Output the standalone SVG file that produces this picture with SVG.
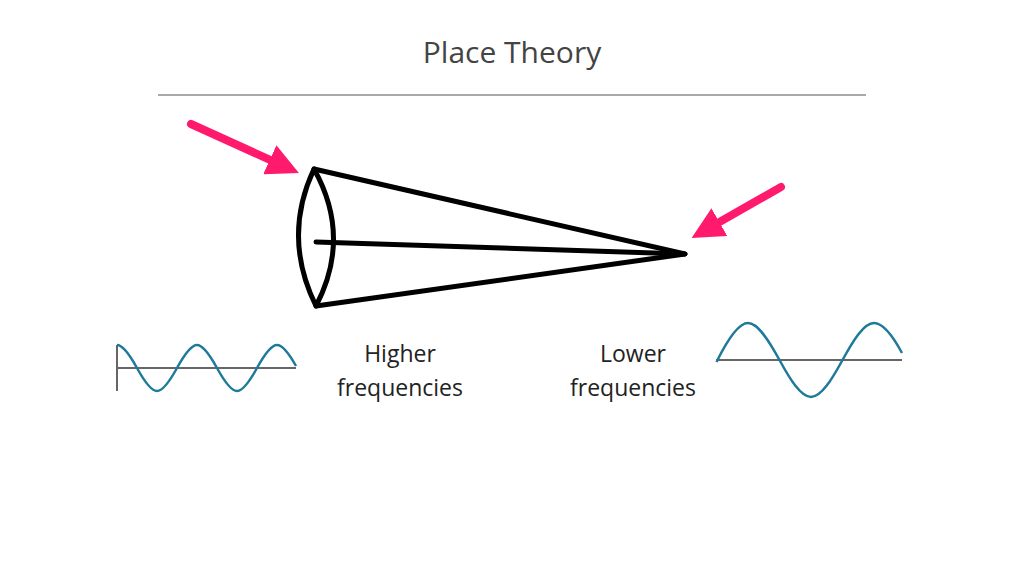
<svg xmlns="http://www.w3.org/2000/svg" width="1024" height="576" viewBox="0 0 1024 576">
<style>
.t{font-family:"Open Sans","Noto Sans",sans-serif;fill:#222}
.k{fill:none;stroke:#000;stroke-width:5;stroke-linejoin:round;stroke-linecap:round}
.w{fill:none;stroke:#1f7a9a;stroke-width:2.5}
.ax{stroke:#666;stroke-width:2}
.ar{stroke:#ff1a6e;stroke-width:8;stroke-linecap:round}
</style>
<defs><marker id="ah" markerWidth="4" markerHeight="4" refX="2.5" refY="2" orient="auto"><path d="M0,0 L4,2 L0,4 Z" fill="#ff1a6e"/></marker></defs>
<rect width="1024" height="576" fill="#fff"/>
<text class="t" x="512" y="63" font-size="30" text-anchor="middle" fill="#444" style="fill:#444">Place Theory</text>
<line x1="158" y1="95" x2="866" y2="95" stroke="#555" stroke-width="1.2"/>
<g id="cone">
<path class="k" d="M314,169 Q282,237 316,306 Q352,237 314,169 Z"/>
<path class="k" d="M314,169 L685,254 L316,306"/>
<path class="k" d="M316,242 L685,254"/>
</g>
<g id="connectors">
<line class="ar" x1="191" y1="124" x2="288" y2="168" marker-end="url(#ah)"/>
<line class="ar" x1="781" y1="187" x2="702" y2="232" marker-end="url(#ah)"/>
</g>
<g id="high">
<line class="ax" x1="117" y1="345" x2="117" y2="391"/>
<line class="ax" x1="117" y1="368" x2="296" y2="368"/>
<path class="w" d="M117,345 C123.4,345 130.5,356.2 137,368 S150.6,391 157,391 S170.5,379.8 177,368 S190.6,345 197,345 S210.5,356.2 217,368 S230.6,391 237,391 S250.5,379.8 257,368 S270.6,345 277,345 S290.5,356.2 296,366"/>
<text class="t" x="400" y="362" font-size="23" text-anchor="middle">Higher</text>
<text class="t" x="400" y="396" font-size="23" text-anchor="middle">frequencies</text>
</g>
<g id="low">
<line class="ax" x1="716" y1="360" x2="902" y2="360"/>
<path class="w" d="M716.5,362 C726.8,341.1 738,323 748,323 S769.2,341.1 779.5,360 S800.7,397 811,397 S832.2,378.9 842.5,360 S863.7,323 874,323 C884.3,323 895,340 902,353"/>
<text class="t" x="633" y="362" font-size="23" text-anchor="middle">Lower</text>
<text class="t" x="633" y="396" font-size="23" text-anchor="middle">frequencies</text>
</g>
</svg>
